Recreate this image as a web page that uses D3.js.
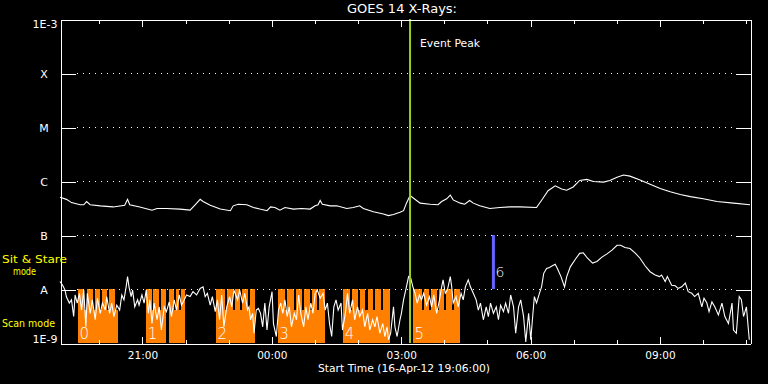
<!DOCTYPE html>
<html>
<head>
<meta charset="utf-8">
<script src="https://cdn.jsdelivr.net/npm/d3@7"></script>
<style>
  html, body { margin: 0; padding: 0; background: #000; }
  svg { display: block; }
  text { font-family: "DejaVu Sans", sans-serif; }
</style>
</head>
<body>
<svg id="chart" width="768" height="384"></svg>
<script>
// ---------- DATA ----------
const startTime = "2012-04-16T19:06:00";
const spanMinutes = 960;
const title = "GOES 14 X-Rays:";
const xAxisTitle = "Start Time (16-Apr-12 19:06:00)";

const yTickValues = [1e-9, 1e-8, 1e-7, 1e-6, 1e-5, 1e-4, 1e-3];
const yTickLabels = ["1E-9", "A", "B", "C", "M", "X", "1E-3"];

// [minutes after start, log10 flux W/m^2]
const longChannel = [
  [0,-6.30],[9,-6.34],[16,-6.40],[28,-6.44],[33,-6.44],[37,-6.38],[42,-6.44],[56,-6.46],[74,-6.48],
  [90,-6.45],[94,-6.34],[97,-6.44],[111,-6.48],[128,-6.54],[135,-6.51],[148,-6.51],[167,-6.52],
  [181,-6.54],[188,-6.44],[195,-6.34],[199,-6.38],[209,-6.45],[223,-6.52],[237,-6.55],[241,-6.46],
  [248,-6.43],[260,-6.44],[269,-6.49],[278,-6.52],[288,-6.55],[293,-6.48],[299,-6.49],[306,-6.54],
  [313,-6.49],[325,-6.52],[336,-6.51],[348,-6.52],[355,-6.46],[359,-6.44],[362,-6.36],[365,-6.43],
  [376,-6.46],[385,-6.46],[399,-6.51],[408,-6.49],[417,-6.46],[422,-6.51],[436,-6.57],[450,-6.61],
  [457,-6.64],[464,-6.62],[473,-6.58],[478,-6.55],[482,-6.41],[487,-6.27],[492,-6.32],[501,-6.41],
  [515,-6.43],[526,-6.44],[531,-6.38],[538,-6.33],[543,-6.26],[547,-6.35],[557,-6.41],[563,-6.43],
  [570,-6.36],[575,-6.41],[584,-6.46],[598,-6.51],[612,-6.49],[626,-6.48],[640,-6.48],[663,-6.49],
  [672,-6.32],[679,-6.18],[689,-6.09],[698,-6.15],[705,-6.17],[714,-6.11],[723,-5.99],[733,-5.97],
  [742,-6.01],[756,-6.02],[765,-5.99],[775,-5.93],[784,-5.89],[793,-5.91],[807,-5.98],[821,-6.06],
  [835,-6.14],[849,-6.20],[863,-6.25],[877,-6.29],[895,-6.33],[914,-6.38],[937,-6.41],[960,-6.44]
];

const shortChannel = [
  [0,-7.86],[4,-7.94],[7,-8.02],[9,-8.15],[13,-8.26],[16,-8.20],[19,-8.51],[21,-8.11],[24,-8.26],
  [27,-8.08],[30,-8.39],[33,-8.02],[36,-8.70],[38,-8.08],[42,-8.45],[45,-8.20],[49,-8.57],[52,-8.17],
  [56,-8.45],[59,-8.26],[63,-8.39],[65,-8.14],[69,-8.45],[72,-8.26],[75,-8.51],[79,-8.30],[83,-8.39],
  [86,-8.11],[89,-8.20],[92,-7.96],[94,-7.77],[96,-7.96],[99,-8.14],[101,-8.02],[104,-8.33],[108,-8.20],
  [110,-8.30],[114,-8.11],[117,-8.26],[120,-8.02],[123,-8.45],[125,-8.20],[128,-8.64],[131,-8.26],
  [135,-8.57],[138,-8.33],[141,-8.76],[145,-8.33],[148,-8.42],[152,-8.24],[155,-8.51],[159,-8.20],
  [162,-8.39],[166,-8.11],[169,-8.30],[173,-8.20],[176,-8.11],[181,-8.14],[185,-8.05],[190,-8.11],
  [195,-7.99],[199,-7.96],[202,-8.14],[205,-8.08],[209,-8.30],[212,-8.14],[216,-8.42],[219,-8.20],
  [222,-8.57],[225,-8.11],[228,-8.70],[232,-8.33],[236,-8.14],[239,-8.33],[242,-8.02],[247,-8.20],
  [250,-8.02],[254,-8.26],[257,-8.08],[261,-8.39],[263,-8.33],[265,-8.57],[268,-8.45],[270,-8.82],
  [273,-8.39],[276,-8.36],[279,-8.45],[282,-8.70],[285,-8.26],[288,-8.76],[291,-8.33],[295,-8.05],
  [297,-8.64],[301,-8.88],[304,-8.39],[307,-8.26],[310,-8.45],[313,-8.20],[316,-8.51],[319,-8.33],
  [322,-8.70],[326,-8.45],[329,-8.57],[332,-8.11],[335,-8.45],[339,-8.70],[342,-8.33],[345,-8.57],
  [349,-8.26],[352,-8.45],[355,-8.08],[358,-8.02],[362,-8.17],[366,-8.08],[369,-8.39],[372,-8.26],
  [375,-8.64],[378,-8.88],[381,-8.33],[384,-8.20],[387,-8.39],[391,-8.26],[393,-8.76],[397,-8.45],
  [400,-8.08],[403,-8.45],[407,-8.20],[410,-8.57],[414,-8.33],[417,-8.51],[421,-8.39],[424,-8.70],
  [428,-8.45],[431,-8.76],[435,-8.57],[438,-8.70],[441,-8.51],[445,-8.82],[449,-8.64],[452,-8.88],
  [455,-8.70],[457,-8.94],[460,-8.82],[464,-8.33],[466,-8.70],[469,-8.88],[473,-8.57],[475,-8.45],
  [478,-8.20],[481,-8.02],[485,-7.77],[488,-7.80],[491,-7.96],[494,-8.08],[497,-8.26],[500,-8.11],
  [503,-8.20],[506,-8.08],[510,-8.30],[514,-8.14],[517,-8.33],[520,-8.11],[524,-8.45],[528,-8.20],
  [531,-7.96],[533,-7.83],[536,-8.08],[539,-8.02],[543,-7.77],[545,-7.96],[547,-8.26],[551,-8.14],
  [554,-8.33],[558,-8.08],[561,-8.20],[564,-7.96],[568,-7.83],[571,-7.96],[575,-8.08],[579,-8.20],
  [582,-8.39],[585,-8.26],[589,-8.57],[593,-8.33],[596,-8.51],[599,-8.26],[603,-8.45],[607,-8.33],
  [610,-8.57],[613,-8.30],[617,-8.42],[620,-8.26],[624,-8.45],[627,-8.11],[631,-8.33],[634,-8.82],
  [638,-8.33],[641,-8.20],[645,-8.51],[648,-8.98],[652,-8.45],[655,-8.94],[658,-8.45],[660,-8.14],
  [663,-8.26],[667,-8.08],[670,-7.96],[673,-7.71],[677,-7.62],[681,-7.60],[685,-7.57],[689,-7.54],
  [692,-7.62],[697,-7.77],[702,-7.96],[705,-7.77],[710,-7.59],[717,-7.45],[723,-7.34],[728,-7.33],
  [734,-7.43],[741,-7.52],[747,-7.49],[754,-7.41],[761,-7.35],[768,-7.28],[775,-7.19],[780,-7.19],
  [786,-7.23],[793,-7.25],[800,-7.33],[807,-7.43],[814,-7.57],[821,-7.68],[828,-7.74],[834,-7.77],
  [837,-7.74],[842,-7.86],[845,-7.77],[851,-7.93],[856,-7.94],[860,-7.99],[865,-7.96],[870,-7.89],
  [874,-8.05],[879,-8.08],[883,-8.14],[888,-8.08],[893,-8.33],[896,-8.17],[900,-8.26],[903,-8.42],
  [907,-8.24],[911,-8.33],[916,-8.48],[921,-8.26],[925,-8.51],[930,-8.64],[935,-8.26],[937,-8.76],
  [941,-8.82],[945,-8.14],[948,-8.20],[951,-8.51],[955,-8.33],[959,-8.94]
];

// Scan-mode blocks: [start min, end min]
const scanBlocks = [[25,81],[120,147],[152,174],[217,271],[303,369],[394,459],[491,557]];
// Individual raster stripes reaching sit & stare level: [start min, end min]
const rasterStripes = [
  [25,34],[37,46],[49,56],[58,66],[68,76],
  [120,128],[130,138],[141,147],[152,158],[161,166],[168,174],
  [217,229],[232,240],[243,250],[253,261],[264,271],
  [303,313],[316,325],[328,337],[340,348],[351,358],[361,369],
  [394,403],[406,414],[417,425],[428,435],[438,446],[449,459],
  [491,503],[506,513],[516,524],[527,534],[537,545],[548,557]
];
const blockLabels = ["0","1","2","3","4","5"];
const blockLabelStarts = [25,120,217,303,394,491];
const scanLevel = 4.1e-9;
const stareLevel = 1e-8;

const eventPeakMinute = 487;
const eventPeakLabel = "Event Peak";
const markerMinute = 603;
const markerLabel = "6";
const markerRange = [1e-8, 1e-7];

// ---------- DRAW ----------
const W = 768, H = 384;
const L = 60, R = 750, T = 19, B = 343;
const t0 = new Date(startTime);
const tm = m => new Date(t0.getTime() + m * 60000);

const svg = d3.select("#chart");
svg.append("rect").attr("width", W).attr("height", H).attr("fill", "#000");

const x = d3.scaleTime().domain([tm(0), tm(spanMinutes)]).range([L, R]);
const y = d3.scaleLog().domain([1e-9, 1e-3]).range([B, T]);

// orange scan blocks
const orange = "#ff8000";
svg.append("g").selectAll("rect.base").data(scanBlocks).join("rect")
  .attr("x", d => x(tm(d[0]))).attr("width", d => x(tm(d[1])) - x(tm(d[0])))
  .attr("y", y(scanLevel)).attr("height", y(1e-9) - y(scanLevel))
  .attr("fill", orange).attr("shape-rendering", "crispEdges");
svg.append("g").selectAll("rect.stripe").data(rasterStripes).join("rect")
  .attr("x", d => x(tm(d[0]))).attr("width", d => x(tm(d[1])) - x(tm(d[0])))
  .attr("y", y(stareLevel)).attr("height", y(1e-9) - y(stareLevel))
  .attr("fill", orange).attr("shape-rendering", "crispEdges");

// dotted grid lines
svg.append("g").selectAll("line").data(yTickValues.slice(1, -1)).join("line")
  .attr("x1", L + 17).attr("x2", R - 14)
  .attr("y1", d => Math.round(y(d)) + 0.5).attr("y2", d => Math.round(y(d)) + 0.5)
  .attr("stroke", "#fff").attr("stroke-width", 1)
  .attr("stroke-dasharray", "1 5").attr("shape-rendering", "crispEdges");

// curves
const line = d3.line().x(d => x(tm(d[0]))).y(d => y(Math.pow(10, d[1])));
svg.append("path").datum(longChannel).attr("d", line)
  .attr("fill", "none").attr("stroke", "#fff").attr("stroke-width", 1.1);
svg.append("path").datum(shortChannel).attr("d", line)
  .attr("fill", "none").attr("stroke", "#fff").attr("stroke-width", 1.1);

// block labels
svg.append("g").selectAll("text").data(blockLabels).join("text")
  .attr("x", (d, i) => x(tm(blockLabelStarts[i])) + 1.5)
  .attr("y", B - 4)
  .attr("fill", "#fff").attr("font-size", 15).attr("font-weight", 200)
  .text(d => d);

// event peak line
const xp = x(tm(eventPeakMinute));
svg.append("line").attr("x1", xp).attr("x2", xp).attr("y1", T).attr("y2", B)
  .attr("stroke", "#99cc22").attr("stroke-width", 2);
svg.append("text").attr("x", xp + 10).attr("y", 47).attr("fill", "#fff")
  .attr("font-size", 11).attr("textLength", 60).attr("lengthAdjust", "spacingAndGlyphs")
  .text(eventPeakLabel);

// marker line
const xm = x(tm(markerMinute));
svg.append("line").attr("x1", xm).attr("x2", xm)
  .attr("y1", y(markerRange[1])).attr("y2", y(markerRange[0]))
  .attr("stroke", "#6464ff").attr("stroke-width", 3);
svg.append("text").attr("x", xm + 2).attr("y", 277).attr("fill", "#fff")
  .attr("font-size", 14).attr("font-weight", 200).text(markerLabel);

// axes
function styleAxis(g) {
  g.selectAll("path, line").attr("stroke", "#fff").attr("stroke-width", 1)
    .attr("shape-rendering", "crispEdges");
  g.selectAll("text").attr("fill", "#fff").attr("font-family", "DejaVu Sans");
}
const hourTicks = d3.timeHour.range(tm(0), tm(spanMinutes));
const majorTicks = hourTicks.filter(d => d.getHours() % 3 === 0);

// bottom minor
svg.append("g").attr("transform", `translate(0.5,${B + 0.5})`)
  .call(d3.axisBottom(x).tickValues(hourTicks).tickSize(-4).tickSizeOuter(0).tickFormat(""))
  .call(styleAxis);
// bottom major with labels
svg.append("g").attr("transform", `translate(0.5,${B + 0.5})`)
  .call(d3.axisBottom(x).tickValues(majorTicks).tickSize(-7).tickSizeOuter(0)
    .tickPadding(8).tickFormat(d3.timeFormat("%H:%M")))
  .call(styleAxis)
  .call(g => g.selectAll("text").attr("font-size", 10.5));
// top minor & major
svg.append("g").attr("transform", `translate(0.5,${T + 0.5})`)
  .call(d3.axisTop(x).tickValues(hourTicks).tickSize(-4).tickSizeOuter(0).tickFormat(""))
  .call(styleAxis);
svg.append("g").attr("transform", `translate(0.5,${T + 0.5})`)
  .call(d3.axisTop(x).tickValues(majorTicks).tickSize(-7).tickSizeOuter(0).tickFormat(""))
  .call(styleAxis);
// left
svg.append("g").attr("transform", `translate(${L + 0.5},0.5)`)
  .call(d3.axisLeft(y).tickValues(yTickValues).tickSize(-15).tickSizeOuter(0)
    .tickPadding(3).tickFormat((d, i) => yTickLabels[i]))
  .call(styleAxis)
  .call(g => {
    g.selectAll("text").attr("font-size", 11);
    g.selectAll(".tick text").each(function(d, i) {
      const s = d3.select(this);
      if (i === 0) s.attr("dy", "-0.05em");
      else if (i === yTickValues.length - 1) s.attr("dy", "0.75em");
      else s.attr("text-anchor", "middle").attr("x", -16.5);
    });
  });
// right
svg.append("g").attr("transform", `translate(${R + 0.5},0.5)`)
  .call(d3.axisRight(y).tickValues(yTickValues).tickSize(-15).tickSizeOuter(0).tickFormat(""))
  .call(styleAxis);

// titles
svg.append("text").attr("x", 402).attr("y", 13).attr("text-anchor", "middle")
  .attr("fill", "#fff").attr("font-size", 11.5)
  .attr("textLength", 110).attr("lengthAdjust", "spacingAndGlyphs").text(title);
svg.append("text").attr("x", 404).attr("y", 372).attr("text-anchor", "middle")
  .attr("fill", "#fff").attr("font-size", 10.5)
  .attr("textLength", 172).attr("lengthAdjust", "spacingAndGlyphs").text(xAxisTitle);

// mode labels
const yellow = "#ffff00";
svg.append("text").attr("x", 2).attr("y", 263).attr("fill", yellow).attr("font-size", 11)
  .attr("textLength", 65).attr("lengthAdjust", "spacingAndGlyphs").text("Sit & Stare");
svg.append("text").attr("x", 13).attr("y", 275).attr("fill", yellow).attr("font-size", 11)
  .attr("textLength", 23).attr("lengthAdjust", "spacingAndGlyphs").text("mode");
svg.append("text").attr("x", 2).attr("y", 327).attr("fill", yellow).attr("font-size", 11)
  .attr("textLength", 53).attr("lengthAdjust", "spacingAndGlyphs").text("Scan mode");
</script>
</body>
</html>
